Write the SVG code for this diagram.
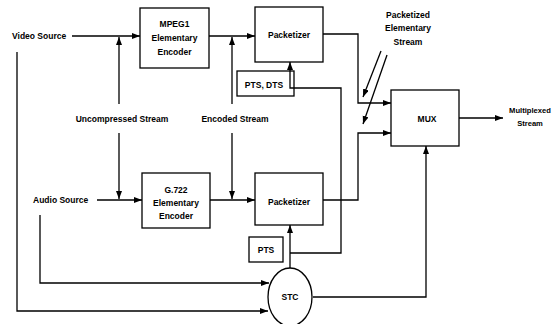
<svg xmlns="http://www.w3.org/2000/svg" width="558" height="324" viewBox="0 0 558 324">
<defs>
<marker id="ah" markerUnits="userSpaceOnUse" markerWidth="9" markerHeight="7" refX="8" refY="3" orient="auto">
<path d="M0,0 L8,3 L0,6 z" fill="#000"/>
</marker>
<style>
rect.box{fill:#fff;stroke:#000;stroke-width:1.3}
ellipse.box{fill:#fff;stroke:#000;stroke-width:1.3}
text{font-family:"Liberation Sans",Arial,sans-serif;font-weight:bold;font-size:8.5px;fill:#000}
.c{text-anchor:middle}
.s{font-size:7.6px}
.w{fill:none;stroke:#000;stroke-width:1.3}
.a{marker-end:url(#ah)}
</style>
</defs>
<rect width="558" height="324" fill="#fff"/>
<g id="connectors">
<path class="w a" d="M72,36 H140"/>
<path class="w a" d="M209,36 H255"/>
<path class="w a" d="M119,104 V37"/>
<path class="w a" d="M119,133 V199"/>
<path class="w a" d="M232,104 V37"/>
<path class="w a" d="M232,133 V199"/>
<path class="w a" d="M97,200 H142"/>
<path class="w a" d="M210,200 H255"/>
<path class="w a" d="M323,34 H358 V103 H391"/>
<path class="w a" d="M323,200 H358 V133 H391"/>
<path class="w a" d="M459,118 H503"/>
<path class="w a" d="M313,297 H426 V146"/>
<path class="w a" d="M290,268 V225"/>
<path class="w a" d="M290,253 H341 V88 H290 V62"/>
<path class="w a" d="M17,52 V311 H268"/>
<path class="w a" d="M40,215 V283 H269"/>
<path class="w a" d="M381,51 L363,97"/>
<path class="w a" d="M387,55 L363,124"/>
</g>
<g id="video-source"><text x="12" y="39">Video Source</text></g>
<g id="audio-source"><text x="33" y="203">Audio Source</text></g>
<g id="mpeg1">
<rect class="box" x="140" y="8" width="69" height="60"/>
<text class="c" x="174.5" y="27">MPEG1</text>
<text class="c" x="174.5" y="41">Elementary</text>
<text class="c" x="174.5" y="55">Encoder</text>
</g>
<g id="g722">
<rect class="box" x="142" y="173" width="68" height="55"/>
<text class="c" x="176" y="193">G.722</text>
<text class="c" x="176" y="206">Elementary</text>
<text class="c" x="176" y="219">Encoder</text>
</g>
<g id="packetizer-video">
<rect class="box" x="255" y="7" width="68" height="55"/>
<text class="c" x="289" y="38">Packetizer</text>
</g>
<g id="packetizer-audio">
<rect class="box" x="255" y="173" width="68" height="52"/>
<text class="c" x="289" y="205">Packetizer</text>
</g>
<g id="pts-dts">
<rect x="237" y="71" width="57" height="25" fill="none" stroke="#000" stroke-width="1.3"/>
<text class="c" x="264" y="88">PTS, DTS</text>
</g>
<g id="pts">
<rect class="box" x="249" y="237" width="34" height="25"/>
<text class="c" x="266" y="253">PTS</text>
</g>
<g id="mux">
<rect class="box" x="391" y="90" width="68" height="56"/>
<text class="c" x="427" y="122">MUX</text>
</g>
<g id="stc">
<ellipse class="box" cx="290" cy="297" rx="22" ry="29"/>
<text class="c" x="290" y="300">STC</text>
</g>
<g id="label-uncompressed"><text class="c" x="122" y="122">Uncompressed Stream</text></g>
<g id="label-encoded"><text class="c" x="235" y="122">Encoded Stream</text></g>
<g id="label-pes">
<text class="c" x="408" y="18">Packetized</text>
<text class="c" x="408" y="31">Elementary</text>
<text class="c" x="408" y="45">Stream</text>
</g>
<g id="label-mux-out">
<text class="c s" x="530" y="113">Multiplexed</text>
<text class="c s" x="530" y="126">Stream</text>
</g>
</svg>
